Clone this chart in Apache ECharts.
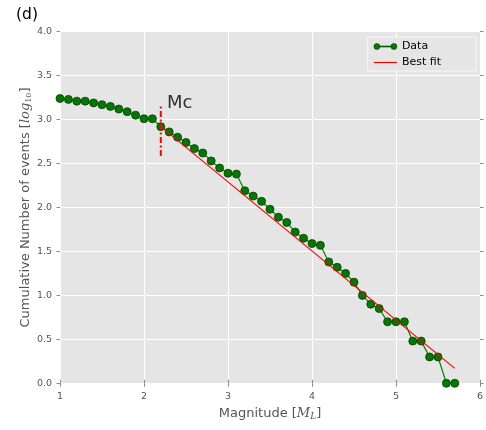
<!DOCTYPE html>
<html>
<head>
<meta charset="utf-8">
<script src="https://cdn.jsdelivr.net/npm/echarts@6/dist/echarts.min.js"></script>
<style>
  html, body { margin: 0; padding: 0; background: #fff; }
  #chart { width: 486px; height: 430px; }
</style>
</head>
<body>
<div id="chart"></div>
<script>
// Magnitude bins (M_L) and cumulative event counts, log10
const magnitudes = [1.0, 1.1, 1.2, 1.3, 1.4, 1.5, 1.6, 1.7, 1.8, 1.9,
                    2.0, 2.1, 2.2, 2.3, 2.4, 2.5, 2.6, 2.7, 2.8, 2.9,
                    3.0, 3.1, 3.2, 3.3, 3.4, 3.5, 3.6, 3.7, 3.8, 3.9,
                    4.0, 4.1, 4.2, 4.3, 4.4, 4.5, 4.6, 4.7, 4.8, 4.9,
                    5.0, 5.1, 5.2, 5.3, 5.4, 5.5, 5.6, 5.7];
const logCumulative = [3.24, 3.23, 3.21, 3.21, 3.19, 3.17, 3.15, 3.12, 3.09, 3.05,
                       3.01, 3.01, 2.92, 2.86, 2.80, 2.74, 2.67, 2.62, 2.53, 2.45,
                       2.39, 2.38, 2.19, 2.13, 2.07, 1.98, 1.89, 1.83, 1.72, 1.65,
                       1.59, 1.57, 1.38, 1.32, 1.25, 1.15, 1.00, 0.90, 0.85, 0.70,
                       0.70, 0.70, 0.48, 0.48, 0.30, 0.30, 0.00, 0.00];

// Gutenberg-Richter best fit, from Mc to the largest bin
const fitMagnitudes = [2.2, 5.7];
const fitLog = [2.92, 0.17];

// Magnitude of completeness marker
const mcMagnitude = 2.2;
const mcSpan = [2.585, 3.155];
const mcLabel = 'Mc';
const mcLabelPos = [2.25, 3.19];

// Axis ticks
const xTicks = [1, 2, 3, 4, 5, 6];
const yTicks = [0.0, 0.5, 1.0, 1.5, 2.0, 2.5, 3.0, 3.5, 4.0];

const FONT = 'DejaVu Sans';
const MATH = 'DejaVu Serif';

const dataPoints = magnitudes.map((m, i) => [m, logCumulative[i]]);
const fitPoints = fitMagnitudes.map((m, i) => [m, fitLog[i]]);
const mcPoints = mcSpan.map(v => [mcMagnitude, v]);

const chart = echarts.init(document.getElementById('chart'), null, { renderer: 'canvas' });

const tickStyle = { show: true, inside: false, length: 3.5, lineStyle: { color: '#8a8a8a', width: 1 } };

const option = {
  backgroundColor: '#ffffff',
  animation: false,
  textStyle: { fontFamily: FONT },
  title: {
    text: '(d)',
    left: 11,
    top: 2,
    textStyle: { fontFamily: FONT, fontSize: 15.5, fontWeight: 'normal', color: '#000' }
  },
  grid: {
    left: 60, right: 4, top: 31.7, bottom: 46.7,
    show: true, backgroundColor: '#E5E5E5', borderWidth: 0,
    containLabel: false
  },
  legend: {
    orient: 'vertical',
    right: 10,
    top: 37,
    padding: [4, 35, 3, 6],
    itemGap: 5,
    itemWidth: 23,
    itemHeight: 6,
    itemTextGap: 9,
    backgroundColor: '#E5E5E5',
    borderColor: '#f7f7f7',
    borderWidth: 1,
    borderRadius: 0,
    textStyle: { fontFamily: FONT, fontSize: 11, color: '#000' },
    data: [
      {
        name: 'Data',
        icon: 'path://M0,3a3,3 0 1,0 6,0a3,3 0 1,0 -6,0ZM17,3a3,3 0 1,0 6,0a3,3 0 1,0 -6,0ZM6,2.5L17,2.5L17,3.5L6,3.5Z',
        itemStyle: { color: '#007a00', borderColor: '#0b3a0b', borderWidth: 0.6 }
      },
      {
        name: 'Best fit',
        icon: 'path://M0,2.4L23,2.4L23,3.6L0,3.6Z',
        itemStyle: { color: '#ff0000' }
      }
    ]
  },
  xAxis: [
    {
      type: 'value',
      min: xTicks[0],
      max: xTicks[xTicks.length - 1],
      interval: 1,
      position: 'bottom',
      name: 'Magnitude [{m|M}{s|L}]',
      nameLocation: 'middle',
      nameGap: 23,
      nameMoveOverlap: false,
      nameTextStyle: {
        fontFamily: FONT, fontSize: 13, color: '#555',
        rich: {
          m: { fontFamily: MATH, fontStyle: 'italic', fontSize: 13, color: '#555' },
          s: { fontFamily: MATH, fontStyle: 'italic', fontSize: 9, color: '#555', padding: [6, 0, 0, 0] }
        }
      },
      axisLine: { show: false },
      axisTick: tickStyle,
      axisLabel: { margin: 8, fontSize: 9.5, color: '#555', fontFamily: FONT },
      splitLine: { show: true, lineStyle: { color: '#ffffff', width: 1 } }
    },
    {
      type: 'value',
      min: xTicks[0],
      max: xTicks[xTicks.length - 1],
      interval: 1,
      position: 'top',
      axisLine: { show: false },
      axisTick: tickStyle,
      axisLabel: { show: false },
      splitLine: { show: false }
    }
  ],
  yAxis: [
    {
      type: 'value',
      min: yTicks[0],
      max: yTicks[yTicks.length - 1],
      interval: 0.5,
      position: 'left',
      name: 'Cumulative Number of events [{m|log}{s|10}]',
      nameLocation: 'middle',
      nameGap: 27,
      nameMoveOverlap: false,
      nameTextStyle: {
        fontFamily: FONT, fontSize: 13, color: '#555',
        rich: {
          m: { fontFamily: MATH, fontStyle: 'italic', fontSize: 13, color: '#555' },
          s: { fontFamily: MATH, fontSize: 8, color: '#555', padding: [6, 0, 0, 0] }
        }
      },
      axisLine: { show: false },
      axisTick: tickStyle,
      axisLabel: {
        margin: 8, fontSize: 9.5, color: '#555', fontFamily: FONT,
        formatter: v => v.toFixed(1)
      },
      splitLine: { show: true, lineStyle: { color: '#ffffff', width: 1 } }
    },
    {
      type: 'value',
      min: yTicks[0],
      max: yTicks[yTicks.length - 1],
      interval: 0.5,
      position: 'right',
      axisLine: { show: false },
      axisTick: tickStyle,
      axisLabel: { show: false },
      splitLine: { show: false }
    }
  ],
  series: [
    {
      name: 'Data',
      type: 'line',
      xAxisIndex: 0,
      yAxisIndex: 0,
      data: dataPoints,
      symbol: 'circle',
      symbolSize: 8,
      showAllSymbol: true,
      lineStyle: { color: '#008000', width: 1.2 },
      itemStyle: { color: '#007a00', borderColor: '#0b3a0b', borderWidth: 0.8 },
      z: 3
    },
    {
      name: 'Best fit',
      type: 'line',
      xAxisIndex: 0,
      yAxisIndex: 0,
      data: fitPoints,
      symbol: 'none',
      lineStyle: { color: '#ff0000', width: 1.2 },
      itemStyle: { color: '#ff0000' },
      z: 4
    },
    {
      name: 'Mc',
      type: 'line',
      xAxisIndex: 0,
      yAxisIndex: 0,
      data: mcPoints,
      symbol: 'none',
      lineStyle: { color: '#ff0000', width: 2, type: [6, 2.5, 2, 2.5] },
      z: 4
    },
    {
      name: 'McLabel',
      type: 'scatter',
      xAxisIndex: 0,
      yAxisIndex: 0,
      data: [mcLabelPos],
      symbolSize: 0,
      silent: true,
      label: {
        show: true,
        position: 'right',
        distance: 2,
        formatter: mcLabel,
        fontFamily: FONT,
        fontSize: 18,
        color: '#000'
      },
      z: 5
    }
  ]
};

chart.setOption(option);
</script>
</body>
</html>
